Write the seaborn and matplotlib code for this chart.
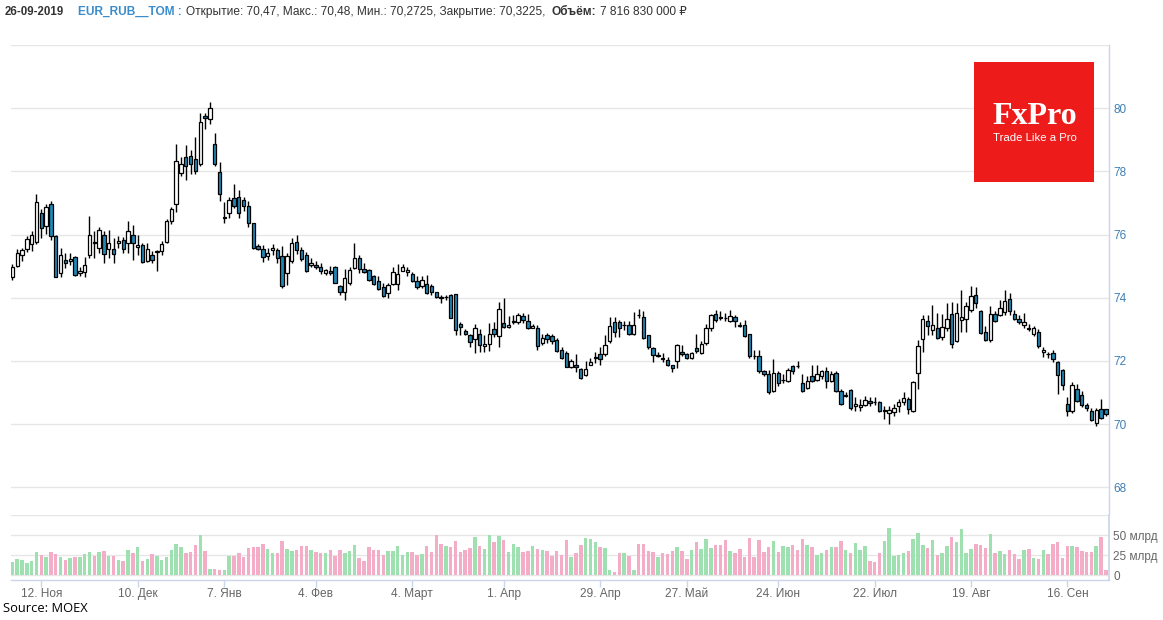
import numpy as np
import pandas as pd
import matplotlib
matplotlib.use("Agg")
import matplotlib.pyplot as plt
from matplotlib.patches import Rectangle
import seaborn as sns

# ---------------- data ----------------
weekdays = pd.bdate_range("2018-11-01", "2019-09-26")
closed_days = pd.to_datetime(["2018-11-05", "2018-12-31", "2019-01-01", "2019-01-02",
                              "2019-01-07", "2019-03-08", "2019-05-01", "2019-05-09",
                              "2019-06-12"])
extra_days = pd.to_datetime(["2018-12-29"])
trade_dates = weekdays.difference(closed_days).union(extra_days)

open_ = [74.65, 75.00, 75.37, 75.56, 75.69, 75.78, 76.68, 76.28, 76.97, 75.96,
         74.80, 75.21, 75.15, 75.28, 74.80, 74.82, 75.34, 75.75, 75.59, 75.98,
         75.53, 75.53, 75.73, 75.82, 75.74, 76.00, 75.60, 75.67, 75.18, 75.37,
         75.45, 75.48, 75.78, 76.44, 76.97, 77.96, 78.46, 78.50, 78.40, 78.24,
         79.74, 79.65, 78.88, 77.99, 76.52, 76.67, 77.16, 77.18, 77.10, 76.89,
         76.38, 75.63, 75.56, 75.33, 75.50, 75.50, 75.33, 74.80, 75.16, 75.76,
         75.51, 75.35, 75.04, 75.05, 74.99, 74.77, 74.86, 74.99, 74.38, 74.19,
         74.46, 74.95, 75.25, 74.92, 74.89, 74.68, 74.52, 74.33, 74.14, 74.43,
         74.43, 74.86, 74.82, 74.75, 74.52, 74.38, 74.44, 74.38, 74.18, 74.02,
         74.02, 74.08, 74.12, 73.16, 72.94, 72.81, 72.71, 72.87, 72.48, 72.55,
         73.00, 72.79, 73.20, 73.07, 73.24, 73.24, 73.43, 73.27, 73.06, 73.06,
         72.58, 72.81, 72.78, 72.66, 72.34, 72.26, 71.80, 71.86, 71.76, 71.55,
         71.86, 72.11, 72.22, 72.23, 72.62, 73.22, 73.22, 73.13, 73.13, 72.85,
         73.45, 73.40, 72.81, 72.41, 72.17, 72.08, 72.03, 71.86, 71.99, 72.29,
         72.22, 72.10, 72.41, 72.26, 72.57, 73.06, 73.50, 73.38, 73.37, 73.26,
         73.39, 73.13, 73.13, 72.85, 72.16, 72.15, 71.67, 71.58, 71.06, 71.62,
         71.40, 71.38, 71.83, 71.85, 71.30, 71.14, 71.51, 71.41, 71.54, 71.67,
         71.36, 71.62, 71.06, 70.90, 71.09, 70.59, 70.56, 70.61, 70.74, 70.71,
         70.71, 70.43, 70.37, 70.40, 70.59, 70.69, 70.80, 70.43, 71.62, 72.69,
         73.26, 72.97, 73.05, 72.76, 73.05, 73.50, 72.62, 73.29, 73.32, 73.61,
         74.08, 73.59, 72.92, 72.65, 73.48, 73.45, 73.55, 73.95, 73.50, 73.32,
         73.15, 73.03, 72.87, 72.92, 72.28, 72.23, 72.25, 71.98, 71.70, 70.64,
         70.43, 71.12, 70.92, 70.62, 70.42, 70.05, 70.48, 70.47]
high = [75.07, 75.53, 75.58, 75.96, 76.12, 77.27, 76.81, 76.97, 77.07, 75.98,
        75.59, 75.43, 75.43, 75.31, 74.98, 75.30, 76.60, 76.12, 76.24, 76.12,
        76.14, 75.90, 75.94, 75.93, 76.44, 76.31, 75.99, 75.74, 75.74, 75.48,
        75.51, 75.80, 76.50, 76.86, 78.88, 78.46, 78.83, 78.67, 79.10, 79.84,
        79.84, 80.20, 79.20, 78.30, 77.02, 77.20, 77.60, 77.41, 77.20, 77.07,
        76.38, 75.69, 75.67, 75.59, 75.69, 75.59, 75.65, 75.43, 75.89, 76.00,
        75.62, 75.46, 75.27, 75.16, 75.10, 74.91, 75.01, 75.01, 74.41, 74.92,
        74.97, 75.72, 75.35, 75.10, 74.92, 74.73, 74.68, 74.46, 74.46, 74.97,
        75.08, 75.08, 74.97, 74.82, 74.68, 74.68, 74.71, 74.44, 74.19, 74.09,
        74.09, 74.13, 74.13, 73.24, 73.02, 72.86, 73.16, 73.02, 72.81, 73.19,
        73.24, 73.87, 74.00, 73.43, 73.46, 73.53, 73.51, 73.48, 73.17, 73.14,
        72.85, 72.90, 72.84, 72.74, 72.45, 72.33, 72.07, 72.23, 71.78, 72.01,
        72.10, 72.29, 72.45, 72.81, 73.40, 73.40, 73.30, 73.26, 73.26, 73.56,
        73.63, 73.58, 72.83, 72.44, 72.29, 72.24, 72.13, 71.88, 72.55, 72.52,
        72.26, 72.28, 72.86, 72.62, 73.16, 73.50, 73.61, 73.59, 73.51, 73.62,
        73.45, 73.22, 73.30, 72.87, 72.34, 72.34, 71.73, 71.73, 72.06, 71.67,
        71.59, 71.78, 71.88, 71.99, 71.59, 71.54, 71.86, 71.86, 71.73, 71.81,
        71.67, 71.67, 71.12, 71.01, 71.12, 70.85, 70.80, 70.89, 70.85, 70.85,
        70.74, 70.59, 70.57, 70.64, 70.80, 71.01, 70.85, 71.38, 72.65, 73.47,
        73.45, 73.77, 73.53, 73.50, 73.85, 73.86, 73.83, 74.24, 73.88, 74.38,
        74.33, 73.61, 73.12, 73.75, 73.58, 73.93, 74.24, 74.14, 73.60, 73.47,
        73.52, 73.17, 73.10, 73.00, 72.45, 72.28, 72.34, 72.01, 71.75, 70.85,
        71.35, 71.28, 71.06, 70.67, 70.50, 70.50, 70.79, 70.48]
low = [74.55, 74.97, 75.16, 75.46, 75.48, 75.71, 75.90, 76.03, 75.82, 74.65,
       74.67, 74.95, 75.03, 74.68, 74.70, 74.65, 75.27, 75.27, 75.43, 75.11,
       75.27, 75.09, 75.59, 75.43, 75.43, 75.21, 75.37, 75.10, 75.14, 75.10,
       74.84, 75.37, 75.73, 76.35, 76.73, 77.87, 77.73, 77.93, 77.93, 78.16,
       79.33, 79.50, 78.16, 77.07, 76.38, 76.54, 76.84, 76.54, 76.76, 76.24,
       75.53, 75.50, 75.14, 75.21, 75.37, 75.10, 74.32, 74.41, 75.10, 75.38,
       75.17, 74.82, 74.98, 74.92, 74.76, 74.71, 74.71, 74.46, 74.10, 73.92,
       74.39, 74.92, 74.78, 74.78, 74.53, 74.41, 74.24, 74.03, 73.98, 74.39,
       74.25, 74.84, 74.70, 74.50, 74.28, 74.31, 74.11, 74.09, 73.98, 73.82,
       73.93, 73.35, 72.81, 72.83, 72.81, 72.44, 72.26, 72.28, 72.28, 72.33,
       72.76, 72.44, 73.03, 73.03, 73.18, 73.18, 73.19, 73.00, 73.03, 72.36,
       72.52, 72.57, 72.55, 72.27, 72.05, 71.80, 71.78, 71.66, 71.42, 71.53,
       71.86, 71.95, 71.86, 72.17, 72.58, 72.76, 72.76, 72.98, 72.82, 72.82,
       73.37, 72.70, 72.39, 71.96, 72.12, 71.97, 71.84, 71.66, 71.79, 72.17,
       72.05, 72.05, 72.26, 72.23, 72.52, 72.95, 73.22, 73.30, 73.25, 73.24,
       73.09, 73.07, 72.75, 72.10, 72.07, 71.63, 71.54, 70.96, 71.01, 71.22,
       71.31, 71.35, 71.60, 71.78, 71.03, 71.11, 71.35, 71.38, 71.43, 71.15,
       71.33, 71.01, 70.61, 70.85, 70.46, 70.43, 70.43, 70.57, 70.59, 70.62,
       70.40, 70.17, 70.00, 70.27, 70.38, 70.61, 70.33, 70.38, 71.12, 72.30,
       72.81, 72.81, 72.71, 72.68, 72.95, 72.41, 72.60, 72.92, 72.92, 73.55,
       73.67, 72.87, 72.62, 72.60, 73.23, 73.42, 73.44, 73.44, 73.30, 73.17,
       73.04, 72.95, 72.79, 72.41, 72.13, 72.10, 71.98, 70.96, 71.07, 70.25,
       70.37, 70.69, 70.56, 70.41, 70.11, 69.93, 70.15, 70.2725]
close = [74.97, 75.43, 75.50, 75.85, 75.98, 77.02, 76.20, 76.86, 75.96, 74.67,
         75.34, 75.10, 75.24, 74.73, 74.85, 75.05, 75.98, 75.74, 76.14, 75.40,
         75.72, 75.40, 75.79, 75.53, 76.12, 75.74, 75.67, 75.14, 75.53, 75.21,
         75.47, 75.71, 76.44, 76.81, 78.33, 78.24, 78.18, 78.24, 78.00, 79.55,
         79.68, 80.00, 78.24, 77.29, 76.56, 77.10, 76.90, 76.68, 76.91, 76.38,
         75.59, 75.56, 75.29, 75.43, 75.59, 75.27, 74.37, 75.31, 75.73, 75.52,
         75.22, 74.84, 75.10, 74.97, 74.86, 74.89, 74.77, 74.48, 74.19, 74.62,
         74.89, 75.27, 74.92, 74.82, 74.57, 74.45, 74.28, 74.06, 74.39, 74.82,
         74.76, 74.99, 74.88, 74.54, 74.34, 74.56, 74.14, 74.17, 74.01, 74.00,
         74.04, 73.37, 72.97, 73.07, 72.84, 72.60, 73.03, 72.50, 72.55, 72.87,
         72.85, 73.64, 73.08, 73.13, 73.25, 73.45, 73.29, 73.03, 73.11, 72.47,
         72.73, 72.69, 72.62, 72.31, 72.10, 71.80, 72.01, 71.80, 71.47, 71.74,
         71.97, 72.13, 72.05, 72.50, 73.11, 72.92, 73.05, 73.15, 72.85, 73.13,
         73.44, 72.73, 72.44, 72.18, 72.20, 72.07, 71.88, 71.79, 72.50, 72.22,
         72.10, 72.24, 72.31, 72.55, 73.03, 73.45, 73.29, 73.37, 73.36, 73.42,
         73.26, 73.12, 72.79, 72.16, 72.15, 71.67, 71.58, 71.01, 71.62, 71.31,
         71.41, 71.70, 71.67, 71.84, 71.04, 71.38, 71.38, 71.59, 71.67, 71.36,
         71.59, 71.06, 70.64, 70.91, 70.50, 70.64, 70.62, 70.78, 70.66, 70.70,
         70.43, 70.44, 70.45, 70.50, 70.69, 70.82, 70.48, 71.33, 72.46, 73.32,
         73.11, 73.15, 72.73, 73.08, 73.34, 72.55, 73.53, 73.40, 73.75, 74.05,
         73.85, 72.90, 72.67, 73.48, 73.26, 73.68, 73.89, 73.58, 73.34, 73.24,
         73.24, 73.02, 73.05, 72.46, 72.36, 72.22, 72.05, 71.57, 71.25, 70.43,
         71.24, 70.72, 70.62, 70.51, 70.14, 70.46, 70.21, 70.3225]
volume = [16.7, 20.4, 19.0, 15.4, 18.0, 29.0, 25.4, 23.0, 29.0, 26.7,
          23.0, 19.0, 21.7, 23.0, 23.0, 26.7, 29.0, 24.0, 29.0, 30.4,
          24.0, 24.0, 19.0, 18.0, 31.7, 28.0, 35.4, 18.0, 20.4, 26.7,
          24.0, 19.0, 23.0, 31.7, 39.0, 35.4, 28.0, 29.0, 38.0, 50.4,
          30.4, 8.0, 8.0, 6.7, 6.7, 24.0, 24.0, 28.0, 23.0, 34.0,
          35.4, 35.4, 39.0, 33.0, 28.0, 28.0, 43.0, 33.0, 30.4, 31.7,
          36.7, 36.7, 31.7, 29.0, 28.0, 28.0, 31.7, 24.0, 31.7, 28.0,
          30.4, 38.0, 21.7, 18.0, 35.4, 31.7, 31.7,
          25.4, 30.4, 30.4, 36.7, 25.4, 29.0, 29.0, 25.4, 26.7, 36.7,
          29.0, 50.4, 39.0, 36.7, 35.4, 43.0, 29.0, 31.7, 34.0, 48.0,
          36.7, 33.0, 50.4, 41.7, 49.0, 44.0, 29.0, 39.0, 35.4, 29.0,
          30.4, 36.7, 33.0, 31.7, 30.4, 24.0, 30.4, 25.4, 44.0, 23.0,
          28.0, 38.0, 46.7, 45.4, 41.7, 35.4, 34.0, 6.7, 4.2, 28.0,
          28.0, 24.0, 6.7, 39.0, 39.0, 30.4, 29.0, 23.0, 28.0, 26.7,
          30.4, 35.4, 30.4, 20.4, 31.7, 41.7, 33.0, 45.4, 34.0, 38.0,
          38.0, 44.0, 30.4, 28.0, 33.0, 23.0, 46.7,
          23.0, 44.0, 29.0, 35.4, 43.0, 29.0, 36.7, 35.4, 38.0, 31.7,
          45.4, 38.0, 35.4, 25.4, 28.0, 31.7, 35.4, 35.4, 43.0, 31.7,
          28.0, 40.4, 31.7, 36.7, 18.0, 16.7, 28.0, 43.0, 59.0, 24.0,
          25.4, 28.0, 30.4, 45.4, 52.9, 38.0, 34.0, 44.0, 25.4, 28.0,
          36.7, 47.9, 41.7, 57.9, 28.0, 33.0, 39.0, 38.0, 34.0, 51.7,
          28.0, 30.4, 26.7, 31.7, 26.7, 20.4, 31.7, 33.0, 21.7, 20.4,
          31.7, 26.7, 39.0, 41.7, 21.7, 36.7, 36.7, 35.4, 30.4, 29.0,
          29.0, 36.7, 47.9, 6.7]

tick_dates = ["2018-11-12", "2018-12-10", "2019-01-07", "2019-02-04", "2019-03-04",
              "2019-04-01", "2019-04-29", "2019-05-27", "2019-06-24", "2019-07-22",
              "2019-08-19", "2019-09-16"]
tick_labels = ["12. Ноя", "10. Дек", "7. Янв", "4. Фев", "4. Март", "1. Апр",
               "29. Апр", "27. Май", "24. Июн", "22. Июл", "19. Авг", "16. Сен"]
price_ticks = [68, 70, 72, 74, 76, 78, 80, 82]
vol_ticks = [0, 25, 50, 75]
vol_tick_labels = ["0", "25 млрд", "50 млрд", ""]

header_date = "26-09-2019"
header_ticker = "EUR_RUB__TOM :"
header_ohlc = "Открытие: 70,47, Макс.: 70,48, Мин.: 70,2725, Закрытие: 70,3225,"
header_vol_label = "Объём:"
header_vol_value = "7 816 830 000 ₽"

# ---------------- style ----------------
sns.set_theme(style="white")
plt.rcParams["font.family"] = ["Liberation Sans", "DejaVu Sans"]

W, H = 1163, 620
fig = plt.figure(figsize=(W / 100, H / 100), dpi=100)
fig.patch.set_facecolor("white")


def fx(px):
    return px / W


def fy(py):
    return 1 - py / H


o = np.array(open_)
c = np.array(close)
hi = np.array(high)
lo = np.array(low)
n = len(o)
idx = np.arange(n)
up = c >= o

L_px, R_px = 11, 1109
x0_px, step_px = 12.4, 4.817
xlim = ((L_px - x0_px) / step_px, (R_px - x0_px) / step_px)

# main panel
main_top, main_bot = 45, 514
ppu = 31.6
ax = fig.add_axes([fx(L_px), fy(main_bot), fx(R_px - L_px), (main_bot - main_top) / H])
ax.set_facecolor("white")
ax.set_ylim(82 - (main_bot - main_top) / ppu, 82)
ax.set_xlim(*xlim)
ax.set_yticks(price_ticks)
ax.set_yticklabels([str(t) if t != 82 else "" for t in price_ticks])
ax.yaxis.grid(True, color="#e6e6e6", lw=1)
ax.set_axisbelow(True)
for s in ["top", "left", "bottom"]:
    ax.spines[s].set_visible(False)
ax.spines["right"].set_color("#ccd6eb")
ax.spines["right"].set_linewidth(1)
ax.yaxis.tick_right()
ax.tick_params(axis="y", length=0, pad=3, labelsize=8.5, labelcolor="#3f7fb5")
ax.set_xticks([])

ax.vlines(idx, lo, hi, color="black", lw=1, zorder=2)
body_h = np.maximum(np.abs(c - o), 0.012)
ax.bar(idx, body_h, bottom=np.minimum(o, c), width=0.7,
       color=np.where(up, "white", "#2188b5"), edgecolor="black", linewidth=0.9, zorder=3)

# volume panel
vol_top, vol_bot = 514.8, 580
axv = fig.add_axes([fx(L_px), fy(vol_bot), fx(R_px - L_px), (vol_bot - vol_top) / H])
vdf = pd.DataFrame({"x": idx, "vol": volume, "dir": np.where(up, "up", "down")})
sns.barplot(data=vdf, x="x", y="vol", hue="dir", native_scale=True, dodge=False,
            palette={"up": "#9fe0b1", "down": "#f3adc6"}, width=0.72, saturation=1,
            errorbar=None, legend=False, ax=axv, zorder=3, linewidth=0)
axv.set_xlim(*xlim)
axv.set_ylim(-6.1, 75.5)
axv.set_yticks(vol_ticks)
axv.set_yticklabels(vol_tick_labels)
axv.yaxis.grid(True, color="#e6e6e6", lw=1)
axv.set_axisbelow(True)
axv.yaxis.tick_right()
axv.tick_params(axis="y", length=0, pad=3, labelsize=8.5, labelcolor="#666666")
for s in ["top", "left"]:
    axv.spines[s].set_visible(False)
axv.spines["right"].set_color("#ccd6eb")
axv.spines["bottom"].set_color("#ccd6eb")
axv.spines["bottom"].set_linewidth(1)
tick_pos = trade_dates.searchsorted(pd.to_datetime(tick_dates))
axv.set_xticks(tick_pos)
axv.set_xticklabels(tick_labels)
axv.tick_params(axis="x", bottom=True, length=5, width=1, color="#ccd6eb",
                labelsize=8.6, labelcolor="#666666", pad=1)
axv.set_xlabel("")
axv.set_ylabel("")

# header
hy = fy(12)
fig.text(fx(5), hy, header_date, fontsize=8.3, fontweight="bold", color="#333333", va="center")
fig.text(fx(78), hy, header_ticker, fontsize=8.6, fontweight="bold", color="#3a8ccc", va="center")
fig.text(fx(186), hy, header_ohlc, fontsize=8.6, color="#333333", va="center")
fig.text(fx(551), hy, header_vol_label, fontsize=8.6, fontweight="bold", color="#333333", va="center")
fig.text(fx(600), hy, header_vol_value, fontsize=8.6, color="#333333", va="center")

# logo
fig.patches.append(Rectangle((fx(974), fy(182)), fx(120), 120 / H, transform=fig.transFigure,
                             facecolor="#ee1b1b", edgecolor="none", zorder=5))
fig.text(fx(1034.5), fy(124), "FxPro", fontsize=23, fontweight="bold", color="white",
         ha="center", va="baseline", family=["Liberation Serif", "DejaVu Serif"], zorder=6)
fig.text(fx(1034.5), fy(140.7), "Trade Like a Pro", fontsize=8.2, color="white", ha="center",
         va="baseline", zorder=6)

# source
fig.text(fx(3), fy(608), "Source: MOEX", fontsize=9.3, color="black", va="center",
         family=["Open Sans", "DejaVu Sans"])

fig.savefig("out.png", dpi=100, facecolor="white")
